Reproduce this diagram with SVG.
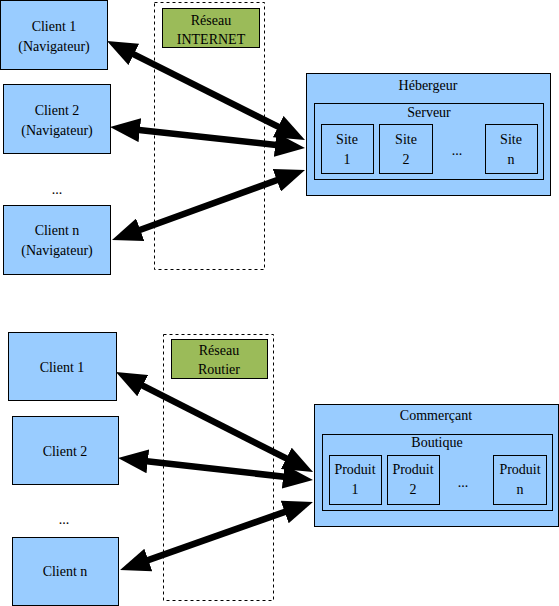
<svg xmlns="http://www.w3.org/2000/svg" width="559" height="606" viewBox="0 0 559 606" font-family="'Liberation Serif', 'Times New Roman', 'DejaVu Serif', serif" font-size="14">
<defs>
<style>
.b{fill:#99ccff;stroke:#000;stroke-width:1}
.g{fill:#9bbb59;stroke:#000;stroke-width:1}
.d{fill:none;stroke:#000;stroke-width:1;stroke-dasharray:3,3}
text{font-family:'Liberation Serif','Times New Roman','DejaVu Serif',serif;font-size:14px;fill:#000;text-anchor:middle}
.a{stroke:#000;stroke-width:6.5;fill:none;marker-start:url(#h);marker-end:url(#h)}
</style>
<marker id="h" markerUnits="userSpaceOnUse" markerWidth="30" markerHeight="24" refX="10" refY="12" orient="auto-start-reverse" viewBox="0 0 30 24">
<path d="M0,0 L30,12 L0,24 z" fill="#000"/>
</marker>
</defs>
<rect width="559" height="606" fill="#fff"/>
<g id="net1"><rect class="d" x="154.5" y="2.5" width="110" height="267"/></g>
<g id="reseau1"><rect class="g" x="162.5" y="8.5" width="97" height="39"/><text x="211" y="25">Réseau</text><text x="211" y="44">INTERNET</text></g>
<g id="client1"><rect class="b" x="0.5" y="0.5" width="107" height="69"/><text x="54" y="31">Client 1</text><text x="54" y="51">(Navigateur)</text></g>
<g id="client2"><rect class="b" x="3.5" y="84.5" width="107" height="69"/><text x="57" y="115">Client 2</text><text x="57" y="135">(Navigateur)</text></g>
<text x="57" y="194">...</text>
<g id="clientn"><rect class="b" x="3.5" y="205.5" width="107" height="69"/><text x="57" y="235">Client n</text><text x="57" y="255">(Navigateur)</text></g>
<g id="hebergeur"><rect class="b" x="306.5" y="73.5" width="244" height="122"/><text x="428" y="90">Hébergeur</text></g>
<g id="serveur"><rect class="b" x="314.5" y="103.5" width="229" height="76"/><text x="429" y="117">Serveur</text></g>
<g id="site1"><rect class="b" x="321.5" y="124.5" width="52" height="49"/><text x="347" y="144">Site</text><text x="347" y="164">1</text></g>
<g id="site2"><rect class="b" x="379.5" y="124.5" width="53" height="49"/><text x="406" y="144">Site</text><text x="406" y="164">2</text></g>
<text x="457" y="155">...</text>
<g id="siten"><rect class="b" x="485.5" y="124.5" width="52" height="49"/><text x="511" y="144">Site</text><text x="511" y="164">n</text></g>
<g id="net2"><rect class="d" x="163.5" y="334.5" width="110" height="266"/></g>
<g id="reseau2"><rect class="g" x="171.5" y="339.5" width="96" height="39"/><text x="219" y="355">Réseau</text><text x="219" y="374">Routier</text></g>
<g id="bclient1"><rect class="b" x="8.5" y="332.5" width="108" height="68"/><text x="62" y="372">Client 1</text></g>
<g id="bclient2"><rect class="b" x="12.5" y="416.5" width="106" height="68"/><text x="65" y="456">Client 2</text></g>
<text x="64" y="524">...</text>
<g id="bclientn"><rect class="b" x="12.5" y="537.5" width="106" height="68"/><text x="65" y="576">Client n</text></g>
<g id="commercant"><rect class="b" x="314.5" y="404.5" width="244" height="122"/><text x="436" y="420">Commerçant</text></g>
<g id="boutique"><rect class="b" x="322.5" y="434.5" width="230" height="76"/><text x="437" y="447">Boutique</text></g>
<g id="produit1"><rect class="b" x="329.5" y="455.5" width="52" height="49"/><text x="355" y="474">Produit</text><text x="355" y="494">1</text></g>
<g id="produit2"><rect class="b" x="387.5" y="455.5" width="52" height="49"/><text x="413" y="474">Produit</text><text x="413" y="494">2</text></g>
<text x="463" y="487">...</text>
<g id="produitn"><rect class="b" x="493.5" y="455.5" width="53" height="49"/><text x="520" y="474">Produit</text><text x="520" y="494">n</text></g>
<g id="connectors">
<line class="a" x1="124.9" y1="49.9" x2="287.1" y2="131.1"/>
<line class="a" x1="129.9" y1="129.1" x2="285.1" y2="145.9"/>
<line class="a" x1="130.8" y1="233.2" x2="286.2" y2="176.8"/>
<line class="a" x1="133.8" y1="381.1" x2="295.2" y2="462.9"/>
<line class="a" x1="137.9" y1="460.2" x2="293.1" y2="477.8"/>
<line class="a" x1="138.9" y1="563.4" x2="294.1" y2="508.6"/>
</g>
</svg>
